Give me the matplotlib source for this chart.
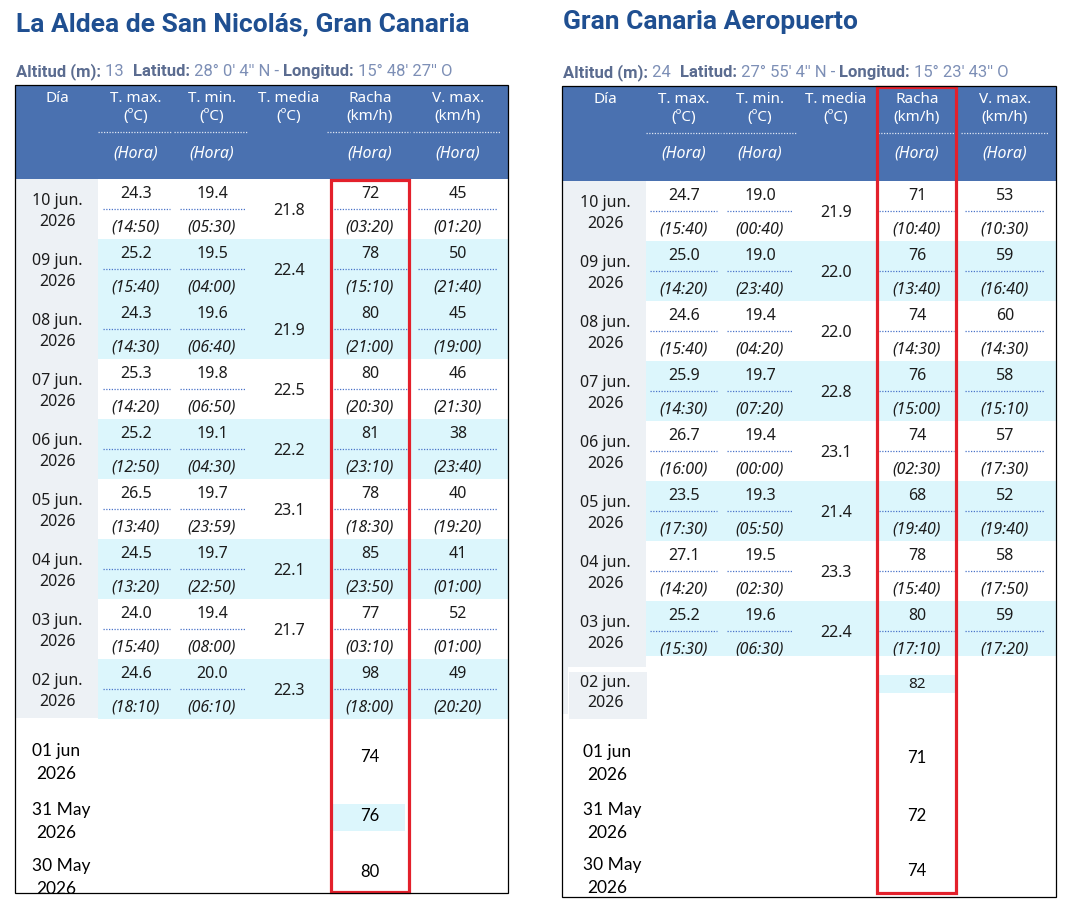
import matplotlib
matplotlib.use("Agg")
import matplotlib.pyplot as plt
from matplotlib.patches import Rectangle
from matplotlib import font_manager

# ---------------- DATA ----------------
# Station 1: La Aldea de San Nicolás
s1_title = "La Aldea de San Nicolás, Gran Canaria"
s1_alt, s1_lat, s1_lon = "13", "28° 0' 4'' N", "15° 48' 27'' O"
s1_days = ["10 jun.", "09 jun.", "08 jun.", "07 jun.", "06 jun.", "05 jun.", "04 jun.", "03 jun.", "02 jun."]
s1_tmax = ["24.3", "25.2", "24.3", "25.3", "25.2", "26.5", "24.5", "24.0", "24.6"]
s1_tmax_h = ["14:50", "15:40", "14:30", "14:20", "12:50", "13:40", "13:20", "15:40", "18:10"]
s1_tmin = ["19.4", "19.5", "19.6", "19.8", "19.1", "19.7", "19.7", "19.4", "20.0"]
s1_tmin_h = ["05:30", "04:00", "06:40", "06:50", "04:30", "23:59", "22:50", "08:00", "06:10"]
s1_tmed = ["21.8", "22.4", "21.9", "22.5", "22.2", "23.1", "22.1", "21.7", "22.3"]
s1_gust = [72, 78, 80, 80, 81, 78, 85, 77, 98]
s1_gust_h = ["03:20", "15:10", "21:00", "20:30", "23:10", "18:30", "23:50", "03:10", "18:00"]
s1_vmax = [45, 50, 45, 46, 38, 40, 41, 52, 49]
s1_vmax_h = ["01:20", "21:40", "19:00", "21:30", "23:40", "19:20", "01:00", "01:00", "20:20"]
s1_extra_days = ["01 jun", "31 May", "30 May"]
s1_extra_gust = [74, 76, 80]

# Station 2: Gran Canaria Aeropuerto
s2_title = "Gran Canaria Aeropuerto"
s2_alt, s2_lat, s2_lon = "24", "27° 55' 4'' N", "15° 23' 43'' O"
s2_days = ["10 jun.", "09 jun.", "08 jun.", "07 jun.", "06 jun.", "05 jun.", "04 jun.", "03 jun."]
s2_tmax = ["24.7", "25.0", "24.6", "25.9", "26.7", "23.5", "27.1", "25.2"]
s2_tmax_h = ["15:40", "14:20", "15:40", "14:30", "16:00", "17:30", "14:20", "15:30"]
s2_tmin = ["19.0", "19.0", "19.4", "19.7", "19.4", "19.3", "19.5", "19.6"]
s2_tmin_h = ["00:40", "23:40", "04:20", "07:20", "00:00", "05:50", "02:30", "06:30"]
s2_tmed = ["21.9", "22.0", "22.0", "22.8", "23.1", "21.4", "23.3", "22.4"]
s2_gust = [71, 76, 74, 76, 74, 68, 78, 80]
s2_gust_h = ["10:40", "13:40", "14:30", "15:00", "02:30", "19:40", "15:40", "17:10"]
s2_vmax = [53, 59, 60, 58, 57, 52, 58, 59]
s2_vmax_h = ["10:30", "16:40", "14:30", "15:10", "17:30", "19:40", "17:50", "17:20"]
s2_mid_day = "02 jun."
s2_mid_gust = 82
s2_extra_days = ["01 jun", "31 May", "30 May"]
s2_extra_gust = [71, 72, 74]

year = "2026"

# ---------------- STYLE ----------------
HEAD_BLUE = "#4a71b0"
TITLE_BLUE = "#1f4f91"
CYAN = "#dcf6fc"
GRAY = "#edf1f5"
DOT = "#4a74c9"
RED = "#e3202b"
TXT = "#1c1c1c"
LAB = "#5b6c90"
VAL = "#7d8fb6"
FONT = ["Noto Sans", "DejaVu Sans"]
FONT2 = ["Lato", "DejaVu Sans"]


def has_bold(name):
    for f in font_manager.fontManager.ttflist:
        if f.name == name and (f.weight in ("bold", 700) or (isinstance(f.weight, int) and f.weight >= 600)):
            return True
    return False


BOLDF = next((n for n in ["Noto Sans", "Roboto", "Open Sans", "Lato", "Inter"] if has_bold(n)), "DejaVu Sans")
BFONT = [BOLDF, "DejaVu Sans"]

fig = plt.figure(figsize=(10.7, 9), dpi=100)
ax = fig.add_axes([0, 0, 1, 1])
ax.set_xlim(0, 1070)
ax.set_ylim(900, 0)
ax.axis("off")
renderer = fig.canvas.get_renderer()


def seg_text(x, y, parts, fs):
    for s, bold in parts:
        if s.startswith("_gap"):
            x += float(s[4:])
            continue
        t = ax.text(x, y, s, fontsize=fs, family=BFONT, fontweight="bold" if bold else "normal",
                    color=LAB if bold else VAL, ha="left", va="baseline", zorder=5)
        bb = t.get_window_extent(renderer)
        x += bb.width


def dotted(x0, x1, y):
    ax.plot([x0, x1], [y, y], color=DOT, lw=0.9, ls=(0, (1, 1.2)), zorder=3, solid_capstyle="butt")


def panel(P):
    L, R, T, B = P["box"]
    cx = P["cx"]
    # title + subtitle
    ax.text(L + 1, P["title_y"], P["title"], fontsize=19, family=BFONT, fontweight="bold",
            color=TITLE_BLUE, ha="left", va="center")
    seg_text(L + 1, P["sub_y"] + 5, [("Altitud (m):", True), (" " + P["alt"], False), ("_gap9", False),
                                     ("Latitud:", True), (" " + P["lat"] + " - ", False),
                                     ("Longitud:", True), (" " + P["lon"], False)], 12)
    # header
    hb = P["head_b"]
    ax.add_patch(Rectangle((L, T), R - L, hb - T, color=HEAD_BLUE, lw=0, zorder=1))
    hy = T + 12
    hdr = ["Día", "T. max.\n(ºC)", "T. min.\n(ºC)", "T. media\n(ºC)", "Racha\n(km/h)", "V. max.\n(km/h)"]
    for k, h in enumerate(hdr):
        ax.text(cx[k], hy - 6, h, fontsize=11, family=FONT, color="white", ha="center", va="top",
                linespacing=1.28, zorder=4)
    for k in (1, 2, 4, 5):
        x0, x1 = P["hdot"][k]
        ax.plot([x0, x1], [T + 47, T + 47], color="#dfe6f2", lw=0.9, ls=(0, (1, 1.2)), zorder=3)
        ax.text(cx[k], T + 68, "(Hora)", fontsize=11.5, family=FONT, style="italic", color="white",
                ha="center", va="center", zorder=4)
    # rows
    rh = 60
    y0 = hb
    n = len(P["days"])
    ax.add_patch(Rectangle((L, y0), P["dia_r"] - L, P["gray_b"] - y0, color=GRAY, lw=0, zorder=1))
    for i in range(n):
        top = y0 + i * rh
        h = P["last_h"] if i == n - 1 else rh
        if P["blue"][i]:
            ax.add_patch(Rectangle((P["dia_r"], top), R - P["dia_r"], h, color=CYAN, lw=0, zorder=1))
        ax.text(cx[0], top + 22, P["days"][i], fontsize=11.5, family=FONT, color=TXT, ha="center", va="center", zorder=4)
        ax.text(cx[0], top + 43, year, fontsize=11.5, family=FONT, color=TXT, ha="center", va="center", zorder=4)
        vals = [P["tmax"][i], P["tmin"][i], None, str(P["gust"][i]), str(P["vmax"][i])]
        hrs = [P["tmax_h"][i], P["tmin_h"][i], None, P["gust_h"][i], P["vmax_h"][i]]
        for k, (v, hh) in enumerate(zip(vals, hrs), start=1):
            if v is None:
                ax.text(cx[k], top + 32, P["tmed"][i], fontsize=11.5, family=FONT, color=TXT,
                        ha="center", va="center", zorder=4)
                continue
            ax.text(cx[k], top + 15, v, fontsize=11.5, family=FONT, color=TXT, ha="center", va="center", zorder=4)
            ax.text(cx[k], top + 49, "(" + hh + ")", fontsize=11.5, family=FONT, style="italic", color=TXT,
                    ha="center", va="center", zorder=4)
            x0, x1 = P["rdot"][k]
            dotted(x0, x1, top + 30)
    # extra rows
    for j, (d, g) in enumerate(zip(P["xdays"], P["xgust"])):
        yy = P["x_y"][j]
        ax.text(P["x_x"], yy, d, fontsize=12.5, family=FONT2, color="black", ha="left", va="center", zorder=4)
        ax.text(P["x_x"] + 4, yy + 23, year, fontsize=12.5, family=FONT2, color="black", ha="left", va="center", zorder=4)
        if P["x_bg"][j]:
            ax.add_patch(Rectangle((P["x_bg"][j][0], yy - 6), P["x_bg"][j][1], 27, color=CYAN, lw=0, zorder=1))
        ax.text(cx[4], yy + 6, str(g), fontsize=12, family=FONT2, color="black", ha="center", va="center", zorder=4)
    # red box and border
    rx0, rx1, ry0, ry1 = P["red"]
    ax.add_patch(Rectangle((rx0, ry0), rx1 - rx0, ry1 - ry0, fill=False, ec=RED, lw=2.3, zorder=7))
    ax.add_patch(Rectangle((L, T), R - L, B - T, fill=False, ec="black", lw=0.9, zorder=8))


P1 = dict(title=s1_title, alt=s1_alt, lat=s1_lat, lon=s1_lon, box=(15, 508, 85, 893),
          title_y=24, sub_y=71, head_b=179, dia_r=98, gray_b=718, last_h=60,
          cx=[57, 136, 212, 289, 370, 458],
          hdot={1: (98, 172), 2: (174, 248), 4: (327, 410), 5: (413, 500)},
          rdot={1: (103, 170), 2: (180, 245), 4: (334, 407), 5: (418, 497)},
          days=s1_days, tmax=s1_tmax, tmax_h=s1_tmax_h, tmin=s1_tmin, tmin_h=s1_tmin_h, tmed=s1_tmed,
          gust=s1_gust, gust_h=s1_gust_h, vmax=s1_vmax, vmax_h=s1_vmax_h,
          blue=[False, True, True, False, True, False, True, False, True],
          xdays=s1_extra_days, xgust=s1_extra_gust, x_x=32, x_y=[751, 810, 866],
          x_bg=[None, (333, 72), None], red=(331, 409, 180, 892))

P2 = dict(title=s2_title, alt=s2_alt, lat=s2_lat, lon=s2_lon, box=(562, 1056, 86, 897),
          title_y=22, sub_y=72, head_b=181, dia_r=646, gray_b=667, last_h=55,
          cx=[605, 684, 760, 836, 917, 1005],
          hdot={1: (646, 721), 2: (723, 796), 4: (878, 954), 5: (961, 1048)},
          rdot={1: (650, 717), 2: (727, 792), 4: (879, 954), 5: (965, 1044)},
          days=s2_days, tmax=s2_tmax, tmax_h=s2_tmax_h, tmin=s2_tmin, tmin_h=s2_tmin_h, tmed=s2_tmed,
          gust=s2_gust, gust_h=s2_gust_h, vmax=s2_vmax, vmax_h=s2_vmax_h,
          blue=[False, True, False, True, False, True, False, True],
          xdays=s2_extra_days, xgust=s2_extra_gust, x_x=583, x_y=[752, 810, 865],
          x_bg=[None, None, None], red=(877, 956, 87, 893))

panel(P1)
panel(P2)

# station 2: clipped last row, and the "02 jun." cell
ax.add_patch(Rectangle((646, 656), 410, 14, color="white", lw=0, zorder=5))
ax.add_patch(Rectangle((562, 667), 6, 47, color=GRAY, lw=0, zorder=1))
ax.add_patch(Rectangle((569, 672), 78, 47, color=GRAY, lw=0, zorder=1))
ax.add_patch(Rectangle((878, 675), 77, 18, color=CYAN, lw=0, zorder=1))
ax.text(605, 683, s2_mid_day, fontsize=11.5, family=FONT, color=TXT, ha="center", va="center", zorder=4)
ax.text(605, 703, year, fontsize=11.5, family=FONT, color=TXT, ha="center", va="center", zorder=4)
ax.text(917, 684, str(s2_mid_gust), fontsize=11, family=FONT, color=TXT, ha="center", va="center", zorder=4)

fig.savefig("out.png", dpi=100)
